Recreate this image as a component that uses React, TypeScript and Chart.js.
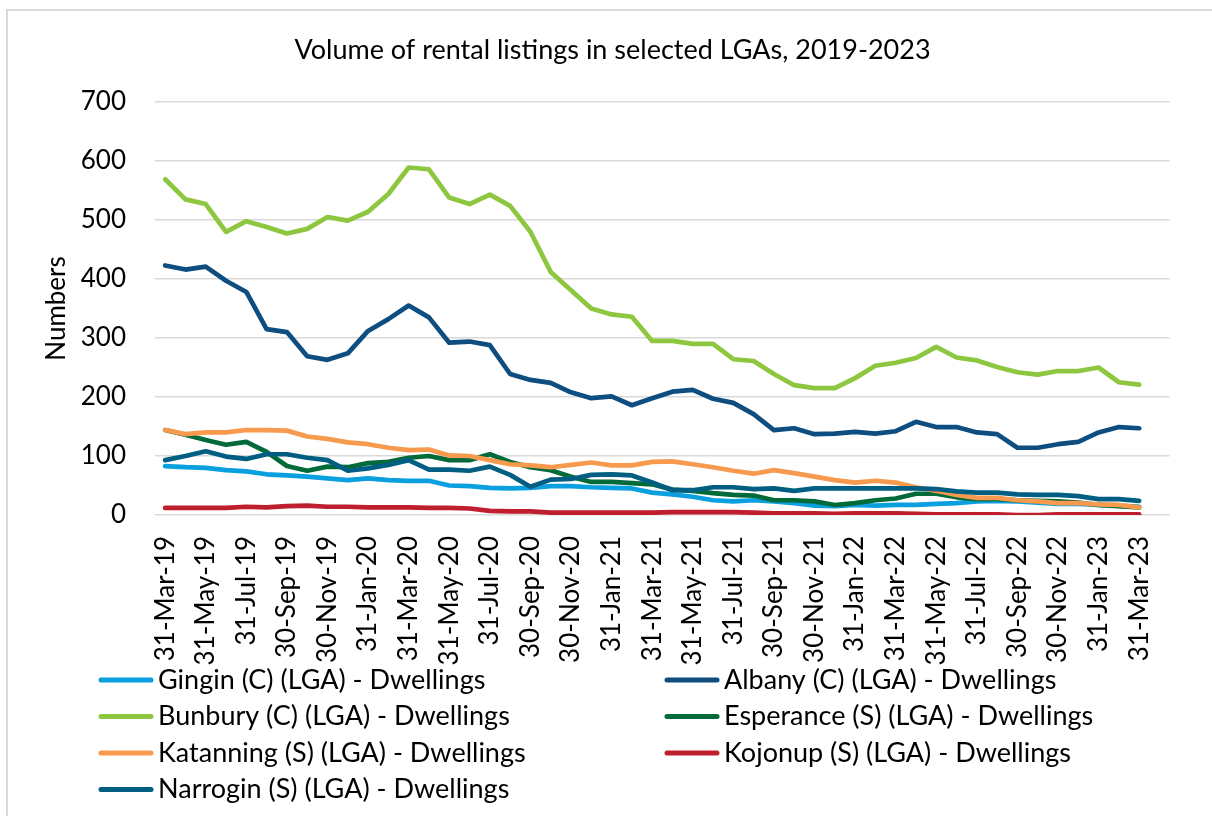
import React, { useEffect, useRef } from "react";
import { Chart, registerables } from "chart.js";

Chart.register(...registerables);

const FONT = "Lato, 'Noto Sans', sans-serif";

const months = [
  "31-Mar-19", "30-Apr-19", "31-May-19", "30-Jun-19", "31-Jul-19", "31-Aug-19", "30-Sep-19", "31-Oct-19",
  "30-Nov-19", "31-Dec-19", "31-Jan-20", "29-Feb-20", "31-Mar-20", "30-Apr-20", "31-May-20", "30-Jun-20",
  "31-Jul-20", "31-Aug-20", "30-Sep-20", "31-Oct-20", "30-Nov-20", "31-Dec-20", "31-Jan-21", "28-Feb-21",
  "31-Mar-21", "30-Apr-21", "31-May-21", "30-Jun-21", "31-Jul-21", "31-Aug-21", "30-Sep-21", "31-Oct-21",
  "30-Nov-21", "31-Dec-21", "31-Jan-22", "28-Feb-22", "31-Mar-22", "30-Apr-22", "31-May-22", "30-Jun-22",
  "31-Jul-22", "31-Aug-22", "30-Sep-22", "31-Oct-22", "30-Nov-22", "31-Dec-22", "31-Jan-23", "28-Feb-23",
  "31-Mar-23", "30-Apr-23",
];

const gingin = [83, 81, 80, 76, 74, 69, 67, 65, 62, 59, 62, 59, 58, 58, 50, 49, 46, 45, 46, 49, 49, 47, 46, 45, 38, 35, 31, 25, 23, 25, 23, 20, 16, 15, 17, 16, 17, 17, 19, 20, 23, 24, 23, 21, 19, 19, 17, 16, 14];
const albany = [423, 416, 421, 397, 378, 315, 310, 269, 263, 274, 312, 332, 355, 335, 292, 294, 288, 239, 229, 224, 208, 198, 201, 186, 198, 209, 212, 197, 190, 171, 144, 147, 137, 138, 141, 138, 142, 158, 149, 149, 140, 137, 114, 114, 120, 124, 140, 149, 147];
const bunbury = [569, 535, 527, 480, 498, 488, 477, 485, 505, 499, 514, 544, 589, 586, 538, 527, 543, 524, 480, 412, 381, 350, 340, 336, 295, 295, 290, 290, 264, 261, 239, 220, 215, 215, 232, 253, 258, 266, 285, 267, 262, 251, 242, 238, 244, 244, 250, 225, 221];
const esperance = [144, 136, 127, 119, 124, 107, 83, 75, 82, 81, 88, 90, 97, 100, 93, 93, 103, 90, 81, 76, 65, 56, 56, 54, 52, 43, 41, 37, 34, 33, 25, 25, 23, 17, 20, 25, 28, 36, 36, 30, 27, 27, 25, 24, 23, 21, 17, 15, 13];
const katanning = [144, 137, 140, 140, 144, 144, 143, 133, 129, 123, 120, 114, 110, 111, 101, 100, 93, 86, 84, 81, 85, 89, 84, 84, 90, 91, 86, 81, 75, 70, 76, 71, 65, 59, 55, 58, 55, 47, 41, 34, 29, 29, 25, 23, 20, 20, 18, 17, 13];
const kojonup = [12, 12, 12, 12, 14, 13, 15, 16, 14, 14, 13, 13, 13, 12, 12, 11, 7, 6, 6, 4, 4, 4, 4, 4, 4, 5, 5, 5, 5, 4, 3, 3, 3, 2, 3, 3, 3, 2, 1, 1, 1, 1, 0, 0, 1, 1, 1, 1, 1];
const narrogin = [93, 100, 108, 99, 95, 103, 103, 97, 93, 75, 79, 85, 93, 77, 77, 75, 82, 68, 48, 60, 61, 68, 69, 67, 55, 42, 42, 47, 47, 44, 45, 41, 45, 45, 45, 45, 45, 45, 44, 40, 38, 38, 35, 34, 34, 32, 27, 27, 24];

const seriesNames = [
  "Gingin (C) (LGA) - Dwellings",
  "Albany (C) (LGA) - Dwellings",
  "Bunbury (C) (LGA) - Dwellings",
  "Esperance (S) (LGA) - Dwellings",
  "Katanning (S) (LGA) - Dwellings",
  "Kojonup (S) (LGA) - Dwellings",
  "Narrogin (S) (LGA) - Dwellings",
];
const seriesValues = [gingin, albany, bunbury, esperance, katanning, kojonup, narrogin];
const seriesColors = ["#0AA0DF", "#0D4D80", "#8DC63F", "#006A38", "#F79A4E", "#BE1E2D", "#005E82"];

const chartTitle = "Volume of rental listings in selected LGAs, 2019-2023";
const yTitle = "Numbers";

export default function App() {
  const ref = useRef<HTMLCanvasElement>(null);

  useEffect(() => {
    const canvas = ref.current;
    if (!canvas) return;

    const framePlugin = {
      id: "frame",
      beforeDraw(chart: any) {
        const ctx = chart.ctx;
        ctx.save();
        ctx.fillStyle = "#ffffff";
        ctx.fillRect(0, 0, chart.width, chart.height);
        ctx.strokeStyle = "#D9D9D9";
        ctx.lineWidth = 2;
        ctx.strokeRect(7, 10, chart.width + 20, chart.height + 20);
        ctx.restore();
      },
    };

    const gridLegend = {
      id: "gridLegend",
      afterDraw(chart: any) {
        const ctx = chart.ctx;
        ctx.save();
        ctx.font = `27px ${FONT}`;
        ctx.textBaseline = "middle";
        ctx.textAlign = "left";
        chart.data.datasets.forEach((ds: any, i: number) => {
          const col = i % 2;
          const row = Math.floor(i / 2);
          const x0 = col === 0 ? 101 : 667;
          const y = 680 + row * 36.5;
          ctx.strokeStyle = ds.borderColor;
          ctx.lineWidth = 5;
          ctx.lineCap = "round";
          ctx.beginPath();
          ctx.moveTo(x0, y);
          ctx.lineTo(x0 + 50, y);
          ctx.stroke();
          ctx.fillStyle = "#000000";
          ctx.fillText(ds.label, x0 + 57, y);
        });
        ctx.restore();
      },
    };

    const chart = new Chart(canvas, {
      type: "line",
      data: {
        labels: months,
        datasets: seriesNames.map((name, i) => ({
          label: name,
          data: seriesValues[i],
          borderColor: seriesColors[i],
          backgroundColor: seriesColors[i],
          borderWidth: 4.7,
          pointRadius: 0,
          pointHoverRadius: 0,
          tension: 0,
          fill: false,
          borderCapStyle: "round" as const,
          borderJoinStyle: "round" as const,
          order: seriesNames.length - 1 - i,
        })),
      },
      options: {
        responsive: false,
        animation: false,
        layout: { padding: { top: 10, left: 46, right: 33, bottom: 141 } },
        plugins: {
          legend: { display: false },
          tooltip: { enabled: false },
          title: {
            display: true,
            text: chartTitle,
            color: "#000000",
            font: { family: FONT, size: 27, weight: "normal" as const, lineHeight: 1.2 },
            padding: { top: 23.8, bottom: 35.8 },
          },
        },
        scales: {
          x: {
            offset: true,
            grid: { display: false, drawTicks: false },
            border: { display: false },
            afterFit: (scale: any) => {
              scale.height = 160;
            },
            ticks: {
              autoSkip: false,
              maxRotation: 90,
              minRotation: 90,
              padding: 21,
              color: "#000000",
              font: { family: FONT, size: 26 },
              callback: function (this: any, val: any, idx: number) {
                return idx % 2 === 0 ? this.getLabelForValue(val) : "";
              },
            },
          },
          y: {
            min: 0,
            max: 700,
            afterFit: (scale: any) => {
              scale.width = 109;
            },
            grid: { color: "#D9D9D9", lineWidth: 1.5, drawTicks: false },
            border: { display: false },
            ticks: {
              stepSize: 100,
              padding: 29,
              color: "#000000",
              font: { family: FONT, size: 26 },
            },
            title: {
              display: true,
              text: yTitle,
              color: "#000000",
              font: { family: FONT, size: 26, lineHeight: 1.2 },
              padding: { top: -4.6, bottom: 0 },
            },
          },
        },
      },
      plugins: [framePlugin, gridLegend],
    });

    return () => {
      chart.destroy();
    };
  }, []);

  return (
    <div style={{ position: "absolute", left: 0, top: 0, width: 1212, height: 816, background: "#ffffff" }}>
      <canvas ref={ref} width={1212} height={816} style={{ display: "block" }} />
    </div>
  );
}
